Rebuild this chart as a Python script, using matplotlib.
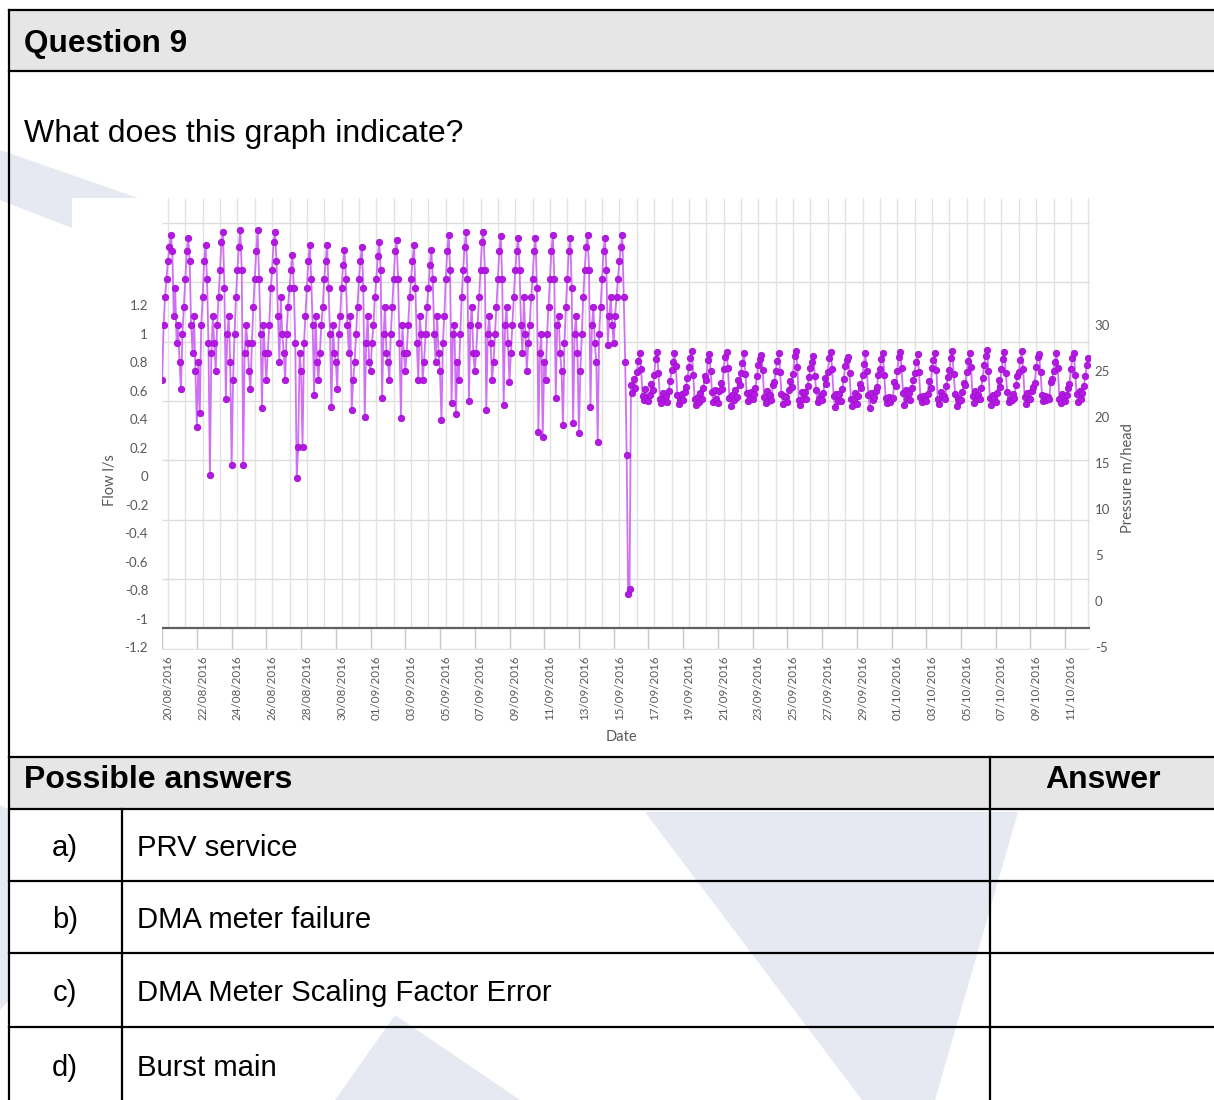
import numpy as np
import matplotlib.pyplot as plt
from matplotlib.patches import Polygon, Rectangle

# pressure readings (m/head), 2-hourly, each row = 16:00 of previous day to 14:00
pressure_before = [
    [24.0, 30.0, 33.0, 35.0, 37.0, 38.5, 39.8, 38.0, 31.0, 34.0, 28.0, 30.0],
    [26.0, 23.0, 29.0, 32.0, 35.0, 38.0, 39.5, 37.0, 30.0, 27.0, 31.0, 25.0],
    [18.9, 26.0, 20.4, 30.0, 33.0, 37.0, 38.7, 35.0, 28.0, 13.7, 27.0, 31.0],
    [28.0, 25.0, 30.0, 33.0, 36.0, 39.0, 40.1, 34.0, 22.0, 29.0, 31.0, 26.0],
    [14.8, 24.0, 29.0, 33.0, 36.0, 38.5, 40.3, 36.0, 14.8, 27.0, 30.0, 28.0],
    [25.0, 23.0, 28.0, 32.0, 35.0, 38.0, 40.3, 35.0, 29.0, 21.0, 30.0, 27.0],
    [24.0, 27.0, 30.0, 34.0, 36.0, 39.0, 40.1, 37.0, 31.0, 26.0, 33.0, 29.0],
    [27.0, 24.0, 29.0, 32.0, 34.0, 36.0, 37.6, 34.0, 28.0, 13.4, 16.7, 27.0],
    [25.0, 16.7, 28.0, 31.0, 34.0, 37.0, 38.7, 35.0, 30.0, 22.4, 31.0, 26.0],
    [24.0, 27.0, 30.0, 32.0, 35.0, 37.0, 38.7, 34.0, 29.0, 21.1, 30.0, 27.0],
    [26.0, 23.0, 29.0, 31.0, 34.0, 36.5, 38.2, 35.0, 30.0, 27.0, 31.0, 20.8],
    [24.0, 26.0, 29.0, 32.0, 35.0, 37.0, 38.5, 34.0, 20.0, 28.0, 31.0, 26.0],
    [25.0, 28.0, 30.0, 33.0, 35.0, 37.5, 39.0, 36.0, 22.1, 29.0, 32.0, 27.0],
    [26.0, 24.0, 29.0, 32.0, 35.0, 38.0, 39.2, 35.0, 28.0, 19.9, 30.0, 27.0],
    [25.0, 27.0, 30.0, 33.0, 35.0, 37.0, 38.7, 34.0, 28.0, 24.0, 31.0, 29.0],
    [24.0, 26.0, 29.0, 32.0, 34.0, 36.5, 38.2, 35.0, 29.0, 26.0, 31.0, 27.0],
    [25.0, 19.7, 28.0, 31.0, 35.0, 38.0, 39.8, 36.0, 21.5, 29.0, 30.0, 20.3],
    [26.0, 24.0, 29.0, 33.0, 36.0, 38.5, 40.1, 35.0, 21.7, 30.0, 32.0, 27.0],
    [25.0, 27.0, 30.0, 33.0, 36.0, 39.0, 40.1, 36.0, 20.8, 29.0, 31.0, 28.0],
    [24.0, 26.0, 29.0, 32.0, 35.0, 38.0, 39.7, 35.0, 21.3, 30.0, 32.0, 28.0],
    [23.8, 27.0, 30.0, 33.0, 36.0, 38.0, 39.5, 36.0, 30.0, 27.0, 33.0, 29.0],
    [25.0, 28.0, 30.0, 33.0, 35.0, 38.0, 39.5, 34.0, 18.4, 27.0, 29.0, 17.8],
    [26.0, 24.0, 29.0, 32.0, 35.0, 38.0, 39.8, 35.0, 22.1, 30.0, 31.0, 27.0],
    [25.0, 19.1, 28.0, 32.0, 35.0, 38.0, 39.5, 34.0, 19.3, 29.0, 31.0, 27.0],
    [18.3, 25.0, 29.0, 33.0, 36.0, 38.5, 39.8, 36.0, 21.1, 30.0, 32.0, 28.0],
    [26.0, 17.3, 29.0, 32.0, 35.0, 38.0, 39.5, 36.0, 27.8, 31.0, 33.0, 30.0],
    [28.0, 31.0, 33.0, 35.0, 37.0, 38.5, 39.8, 33.0, 26.0, 15.9, 0.8, 1.3],
]

pressure_after = [
    [23.5, 22.6, 24.1, 23.2, 24.9, 26.1, 26.9, 25.2, 22.3, 21.8, 23.0, 22.1],
    [21.7, 22.4, 23.6, 22.9, 24.6, 26.3, 27.1, 24.8, 22.0, 21.5, 22.6, 21.9],
    [22.3, 21.6, 22.8, 23.9, 25.1, 26.0, 27.0, 25.5, 22.4, 21.4, 21.8, 22.5],
    [21.8, 22.7, 23.3, 24.2, 25.4, 26.4, 27.2, 24.6, 21.9, 21.3, 22.2, 21.6],
    [22.6, 21.9, 23.1, 24.5, 24.0, 26.2, 26.8, 25.0, 22.7, 21.6, 22.9, 22.0],
    [21.5, 22.8, 23.7, 23.0, 25.2, 26.5, 27.1, 25.3, 22.1, 21.2, 22.4, 21.8],
    [22.9, 22.2, 24.0, 23.5, 24.8, 25.9, 26.9, 24.7, 22.6, 21.7, 22.1, 22.7],
    [21.9, 22.5, 23.2, 24.4, 25.6, 26.3, 26.7, 25.1, 22.2, 21.5, 22.8, 21.7],
    [22.4, 21.8, 23.5, 23.8, 25.0, 26.1, 27.0, 24.9, 22.5, 21.4, 22.3, 22.2],
    [21.6, 22.9, 23.9, 23.3, 24.7, 26.6, 27.2, 25.4, 21.8, 21.3, 22.7, 21.9],
    [22.7, 22.0, 23.4, 24.3, 25.3, 26.0, 26.6, 24.5, 22.9, 21.6, 22.0, 22.4],
    [21.8, 22.6, 24.2, 23.6, 24.9, 26.4, 27.1, 25.2, 22.3, 21.1, 22.5, 21.7],
    [22.5, 21.7, 23.0, 24.1, 25.5, 26.2, 26.5, 24.8, 22.0, 21.2, 21.9, 22.6],
    [21.4, 22.3, 23.6, 23.1, 24.6, 25.8, 26.9, 25.0, 22.4, 21.0, 22.6, 21.8],
    [22.2, 22.8, 23.3, 24.6, 25.2, 26.3, 27.0, 24.6, 22.1, 21.5, 22.2, 21.6],
    [21.9, 22.1, 23.8, 23.4, 25.0, 26.5, 27.1, 25.3, 22.6, 21.3, 22.9, 22.0],
    [22.6, 21.8, 23.1, 24.0, 24.8, 26.0, 26.8, 24.9, 22.2, 21.6, 22.3, 21.9],
    [21.7, 22.5, 23.9, 23.2, 25.3, 26.2, 27.0, 25.1, 22.0, 21.4, 22.7, 22.3],
    [22.3, 22.0, 23.4, 24.3, 25.1, 26.4, 27.2, 24.7, 22.5, 21.2, 22.1, 21.7],
    [21.8, 22.7, 23.7, 23.5, 24.9, 26.1, 26.9, 25.4, 22.3, 21.5, 22.8, 21.9],
    [22.4, 21.9, 23.2, 24.2, 25.6, 26.6, 27.3, 25.0, 22.1, 21.3, 22.4, 22.1],
    [21.6, 22.6, 24.0, 23.3, 25.2, 26.3, 27.1, 24.8, 22.7, 21.6, 22.0, 21.8],
    [22.5, 22.1, 23.5, 24.4, 24.9, 26.2, 27.2, 25.2, 22.2, 21.4, 22.6, 22.0],
    [21.9, 22.8, 23.3, 23.7, 25.4, 26.5, 26.8, 24.9, 22.4, 21.7, 22.3, 21.8],
    [22.2, 21.9, 23.8, 24.1, 25.0, 26.0, 26.9, 25.3, 22.0, 21.5, 22.5, 22.2],
    [21.7, 22.4, 23.1, 23.6, 25.2, 26.4, 27.0, 24.6, 22.5, 21.6, 22.8, 21.9],
]
pressure_tail = [22.6, 23.4, 24.5, 25.6, 26.4]

date_labels = ['20/08/2016', '22/08/2016', '24/08/2016', '26/08/2016', '28/08/2016',
               '30/08/2016', '01/09/2016', '03/09/2016', '05/09/2016', '07/09/2016',
               '09/09/2016', '11/09/2016', '13/09/2016', '15/09/2016', '17/09/2016',
               '19/09/2016', '21/09/2016', '23/09/2016', '25/09/2016', '27/09/2016',
               '29/09/2016', '01/10/2016', '03/10/2016', '05/10/2016', '07/10/2016',
               '09/10/2016', '11/10/2016']
flow_ticks = [-1.2, -1, -0.8, -0.6, -0.4, -0.2, 0, 0.2, 0.4, 0.6, 0.8, 1, 1.2]
pressure_ticks = [-5, 0, 5, 10, 15, 20, 25, 30]

answer_letters = ['a)', 'b)', 'c)', 'd)']
answer_texts = ['PRV service', 'DMA meter failure', 'DMA Meter Scaling Factor Error', 'Burst main']

pressure = np.concatenate([np.ravel(pressure_before), np.ravel(pressure_after), pressure_tail])
t = -1 / 3 + np.arange(len(pressure)) / 12  # days since 20/08, 2 hour steps

W, H = 1214, 1100
fig = plt.figure(figsize=(W / 100, H / 100), dpi=100)

# ---- document page (pixel coordinates) ----
page = fig.add_axes([0, 0, 1, 1])
page.set_xlim(0, W)
page.set_ylim(H, 0)
page.axis('off')

wm = '#E6E9F1'
for pts in [[(0, 150), (138, 198), (72, 198), (72, 228), (0, 200)],
            [(645, 812), (1018, 812), (935, 1100), (862, 1100)],
            [(395, 1015), (520, 1100), (335, 1100)],
            [(0, 805), (9, 810), (9, 1000), (0, 1010)]]:
    page.add_patch(Polygon(pts, closed=True, color=wm, lw=0, zorder=0))

page.add_patch(Rectangle((9, 10), W, 61, color='#E6E6E6', lw=0, zorder=1))
page.add_patch(Rectangle((9, 757), W, 52, color='#E6E6E6', lw=0, zorder=1))

lc = 'black'
page.plot([9, W], [10, 10], color=lc, lw=1.6, zorder=2)
page.plot([9, 9], [10, H], color=lc, lw=1.6, zorder=2)
for yy in [71, 757, 809, 881, 953, 1027]:
    page.plot([9, W], [yy, yy], color=lc, lw=1.6, zorder=2)
page.plot([990, 990], [757, H], color=lc, lw=1.6, zorder=2)
page.plot([122, 122], [809, H], color=lc, lw=1.6, zorder=2)

doc_font = 'Liberation Sans'
page.text(24, 44, 'Question 9', fontsize=22.7, fontweight='bold', family=doc_font,
          ha='left', va='center')
page.text(24, 134, 'What does this graph indicate?', fontsize=23, family=doc_font,
          ha='left', va='center')
page.text(24, 780, 'Possible answers', fontsize=23, fontweight='bold', family=doc_font,
          ha='left', va='center')
page.text(1103, 780, 'Answer', fontsize=23, fontweight='bold', family=doc_font,
          ha='center', va='center')
row_mid = [848, 920, 993, 1068]
for yy, letter, txt in zip(row_mid, answer_letters, answer_texts):
    page.text(65, yy, letter, fontsize=21, family=doc_font, ha='center', va='center')
    page.text(137, yy, txt, fontsize=21.1, family=doc_font, ha='left', va='center')

# ---- chart ----
cf = 'Lato'
tc = '#595959'
x0, x1, y_top, y_bot = 161.7, 1090, 198, 650
ax = fig.add_axes([x0 / W, (H - y_bot) / H, (x1 - x0) / W, (y_bot - y_top) / H])
ax.set_facecolor('none')
ax.set_xlim(-0.36, 53.1)
ax.set_ylim(-5.33, 43.8)
for s in ax.spines.values():
    s.set_visible(False)

axis_level = -2.93
ax.hlines(np.arange(2.4, 42, 6.45), -0.36, 53.1, color='#DCDCDC', lw=1, zorder=1)
ax.vlines(np.arange(0, 54), axis_level, 43.8, color='#E2E2E2', lw=1, zorder=1)
ax.vlines(np.arange(-0.33, 53, 2), -5.2, axis_level, color='#C8C8C8', lw=1, zorder=1)
ax.hlines(-5.2, -0.36, 53.1, color='#E0E0E0', lw=1, zorder=1)
ax.axhline(axis_level, color='#606060', lw=1.6, zorder=2)

ax.plot(t, pressure, color='#D070F2', lw=1.3, marker='o', ms=4.6,
        mfc='#B418E2', mec='#A010D0', mew=0.6, zorder=3)

ax.set_xticks(np.arange(0, 2 * len(date_labels), 2))
ax.set_xticklabels(date_labels, rotation=90, fontsize=8.4, color=tc, family=cf)
ax.tick_params(axis='x', length=0, pad=3.6)
ax.set_yticks([])

ax_p = ax.twinx()
ax_p.set_ylim(-5.33, 43.8)
ax_p.set_yticks(pressure_ticks)
ax_p.set_yticklabels([str(v) for v in pressure_ticks], fontsize=9.5, color=tc, family=cf)
ax_p.tick_params(axis='y', length=0, pad=3.5)
for s in ax_p.spines.values():
    s.set_visible(False)

ax_f = ax.twinx()
ax_f.set_ylim(-1.221, 1.951)
ax_f.yaxis.tick_left()
ax_f.set_yticks(flow_ticks)
ax_f.set_yticklabels([f'{v:g}' for v in flow_ticks], fontsize=9.5, color=tc, family=cf)
ax_f.tick_params(axis='y', length=0, pad=9.8)
for s in ax_f.spines.values():
    s.set_visible(False)

page.text(621, 737, 'Date', fontsize=10.5, color=tc, family=cf, ha='center', va='center')
page.text(110, 480, 'Flow l/s', fontsize=10.5, color=tc, family=cf, rotation=90,
          ha='center', va='center')
page.text(1128, 478, 'Pressure m/head', fontsize=10.5, color=tc, family=cf, rotation=90,
          ha='center', va='center')

fig.savefig('out.png', dpi=100)
